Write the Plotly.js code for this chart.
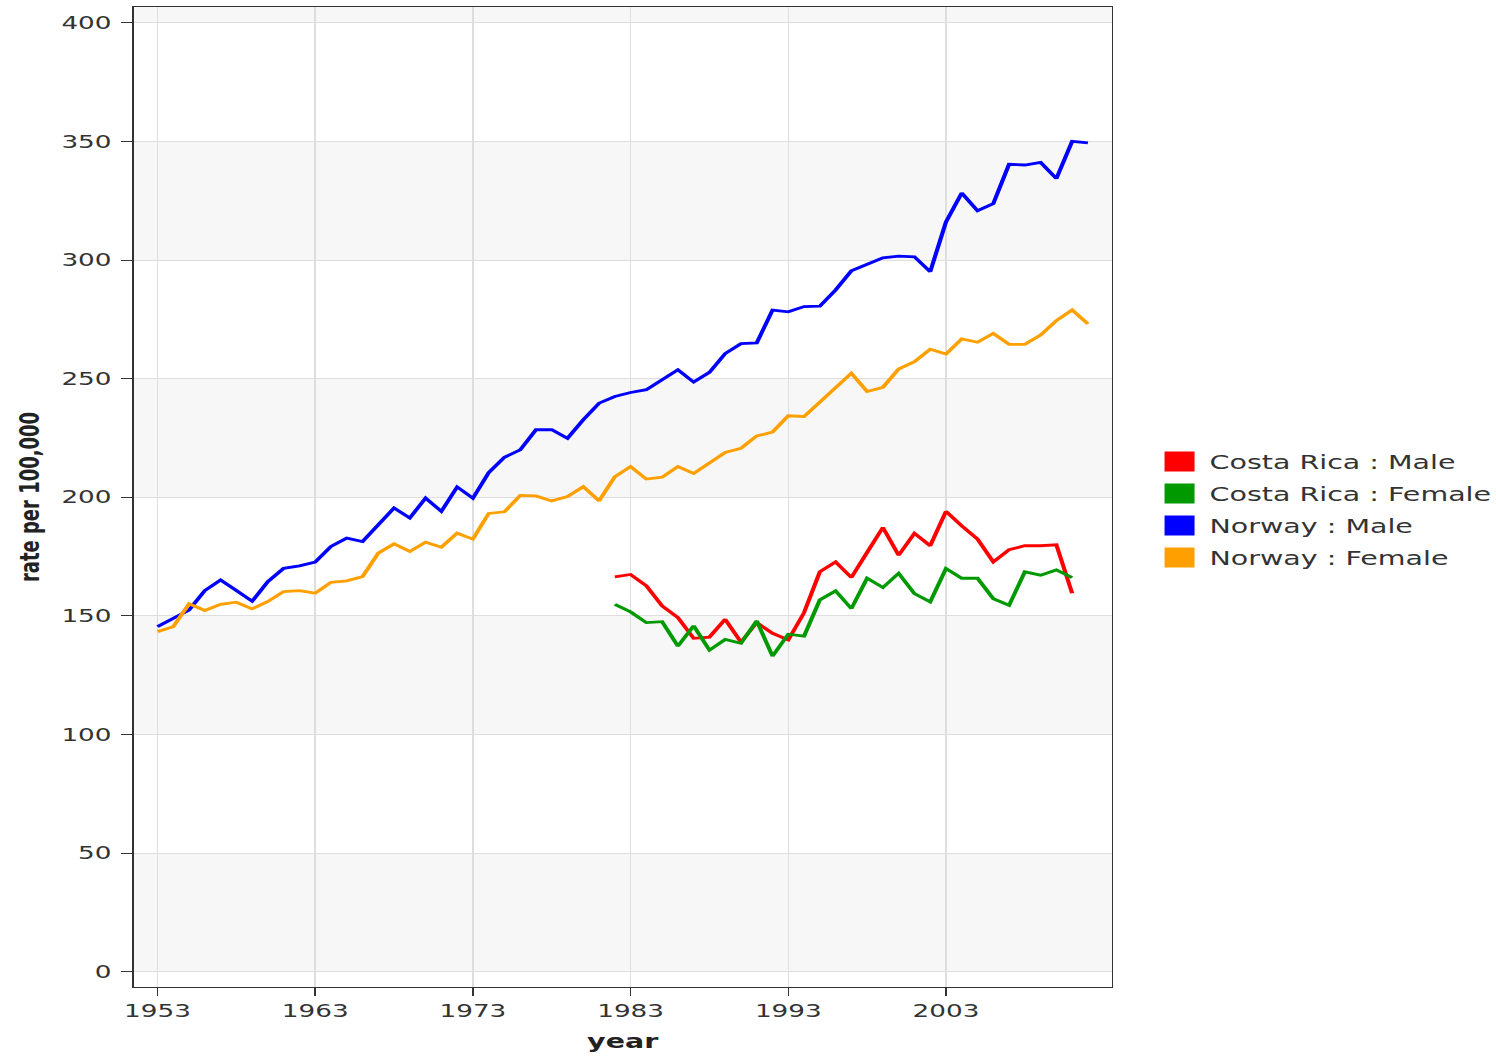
<!DOCTYPE html>
<html>
<head>
<meta charset="utf-8">
<script src="https://cdn.plot.ly/plotly-3.0.1.min.js"></script>
<style>
  html, body { margin: 0; padding: 0; background: #ffffff; overflow: hidden; }
  #chart { width: 997px; height: 1056px; transform: scaleX(1.5005); transform-origin: 0 0; }
</style>
</head>
<body>
<div id="chart"></div>
<script>
// ---- data ----
const norwayYears = [1953,1954,1955,1956,1957,1958,1959,1960,1961,1962,
  1963,1964,1965,1966,1967,1968,1969,1970,1971,1972,
  1973,1974,1975,1976,1977,1978,1979,1980,1981,1982,
  1983,1984,1985,1986,1987,1988,1989,1990,1991,1992,
  1993,1994,1995,1996,1997,1998,1999,2000,2001,2002,
  2003,2004,2005,2006,2007,2008,2009,2010,2011,2012];
const norwayMale = [145.5,149.0,152.5,160.7,165.2,160.7,156.2,164.5,170.1,171.1,
  172.7,179.3,182.8,181.4,188.5,195.5,191.3,199.7,194.1,204.4,
  199.6,210.4,216.9,220.0,228.5,228.5,224.9,232.7,239.7,242.5,
  244.2,245.4,249.6,253.8,248.6,252.7,260.6,264.8,265.1,278.9,
  278.2,280.4,280.6,287.4,295.5,298.3,301.0,301.7,301.4,295.1,
  316.1,328.3,320.8,323.8,340.4,340.1,341.2,334.4,350.1,349.4];
const norwayFemale = [143.4,145.5,155.1,152.3,154.9,155.8,153.0,156.1,160.3,160.7,
  159.6,164.2,164.8,166.6,176.5,180.4,177.2,181.1,179.0,184.9,
  182.4,193.2,193.9,200.8,200.6,198.5,200.3,204.5,198.5,208.7,
  213.0,207.7,208.5,213.0,210.1,214.6,218.9,220.7,225.9,227.5,
  234.4,234.1,240.0,246.4,252.3,244.6,246.4,254.1,257.2,262.4,
  260.4,266.8,265.4,269.1,264.5,264.5,268.4,274.5,279.0,273.1];
const costaRicaYears = [1982,1983,1984,1985,1986,1987,1988,1989,1990,1991,
  1992,1993,1994,1995,1996,1997,1998,1999,2000,2001,
  2002,2003,2004,2005,2006,2007,2008,2009,2010,2011];
const costaRicaMale = [166.5,167.5,162.7,154.2,149.3,140.6,141.1,148.6,139.0,147.2,
  142.7,139.9,151.4,168.6,172.8,166.2,176.8,187.3,175.6,184.8,
  179.6,194.1,188.0,182.4,172.8,177.9,179.6,179.6,180.0,159.6];
const costaRicaFemale = [154.9,151.7,147.2,147.6,137.3,145.8,135.6,140.1,138.5,147.9,
  133.1,142.3,141.5,156.8,160.6,153.1,165.9,162.0,168.0,159.4,
  155.9,170.0,165.9,165.9,157.3,154.5,168.6,167.2,169.4,166.2];
const seriesNames = ['Costa Rica : Male', 'Costa Rica : Female', 'Norway : Male', 'Norway : Female'];
const xTickVals = [1953, 1963, 1973, 1983, 1993, 2003];
const xTickText = ['1953', '1963', '1973', '1983', '1993', '2003'];
const yTickVals = [0, 50, 100, 150, 200, 250, 300, 350, 400];
const yTickText = ['0', '50', '100', '150', '200', '250', '300', '350', '400'];

// ---- styles ----
const colors = ['#ff0000', '#009a00', '#0000ff', '#ffa000'];
const seriesX = [costaRicaYears, costaRicaYears, norwayYears, norwayYears];
const seriesY = [costaRicaMale, costaRicaFemale, norwayMale, norwayFemale];
const FONT = 'DejaVu Sans, Verdana, sans-serif';

const traces = [];
// draw order: Norway first, then Costa Rica on top
[2, 3, 0, 1].forEach(i => {
  traces.push({
    type: 'scatter', mode: 'lines',
    x: seriesX[i], y: seriesY[i],
    name: seriesNames[i], legendgroup: 'g' + i, showlegend: false,
    line: { color: colors[i], width: 2.8 },
    hoverinfo: 'x+y+name'
  });
});
// legend entries as filled squares
[0, 1, 2, 3].forEach(i => {
  traces.push({
    type: 'scatter', mode: 'markers',
    x: [null], y: [null],
    name: seriesNames[i], legendgroup: 'g' + i, showlegend: true,
    legendrank: i + 1,
    marker: { symbol: 'square', size: 16, color: colors[i], line: { color: colors[i], width: 4 } }
  });
});

// alternating background bands
const shapes = [];
[0, 100, 200, 300, 400].forEach(b => {
  shapes.push({
    type: 'rect', xref: 'paper', yref: 'y', layer: 'below',
    x0: 0, x1: 1, y0: b, y1: b + 50,
    fillcolor: '#f7f7f7', line: { width: 0 }
  });
});

const layout = {
  width: 997, height: 1056,
  margin: { l: 89, r: 256, t: 7, b: 69, autoexpand: false },
  paper_bgcolor: '#ffffff', plot_bgcolor: '#ffffff',
  font: { family: FONT, color: '#333333', size: 17.5 },
  showlegend: true,
  legend: {
    x: 1.0385, xanchor: 'left', y: 0.487, yanchor: 'middle',
    font: { family: FONT, size: 19, color: '#333333' },
    bgcolor: 'rgba(0,0,0,0)', borderwidth: 0,
    traceorder: 'grouped', itemclick: false, itemdoubleclick: false,
    tracegroupgap: 4.3
  },
  xaxis: {
    range: [1951.48, 2013.52],
    tickmode: 'array', tickvals: xTickVals, ticktext: xTickText,
    ticks: 'outside', ticklen: 8, tickwidth: 1.3, tickcolor: '#333333',
    showline: true, mirror: true, linecolor: '#333333', linewidth: 1.4,
    showgrid: true, gridcolor: '#dedede', gridwidth: 1.4,
    zeroline: false,
    tickfont: { family: FONT, size: 17.5, color: '#333333' },
    title: { text: 'year', font: { family: FONT, size: 19, color: '#222222', weight: 'bold' }, standoff: 14 },
    automargin: false
  },
  yaxis: {
    range: [-6.4, 406.7],
    tickmode: 'array', tickvals: yTickVals, ticktext: yTickText,
    ticks: 'outside', ticklen: 7, tickwidth: 1.3, tickcolor: '#333333',
    ticklabelstandoff: 3,
    showline: true, mirror: true, linecolor: '#333333', linewidth: 1.4,
    showgrid: true, gridcolor: '#dedede', gridwidth: 1.4,
    zeroline: false,
    tickfont: { family: FONT, size: 17.5, color: '#333333' },
    title: { text: 'rate per 100,000', font: { family: FONT, size: 18, color: '#222222', weight: 'bold' }, standoff: 9 },
    automargin: false
  },
  shapes: shapes
};

Plotly.newPlot('chart', traces, layout, { displayModeBar: false });
</script>
</body>
</html>
